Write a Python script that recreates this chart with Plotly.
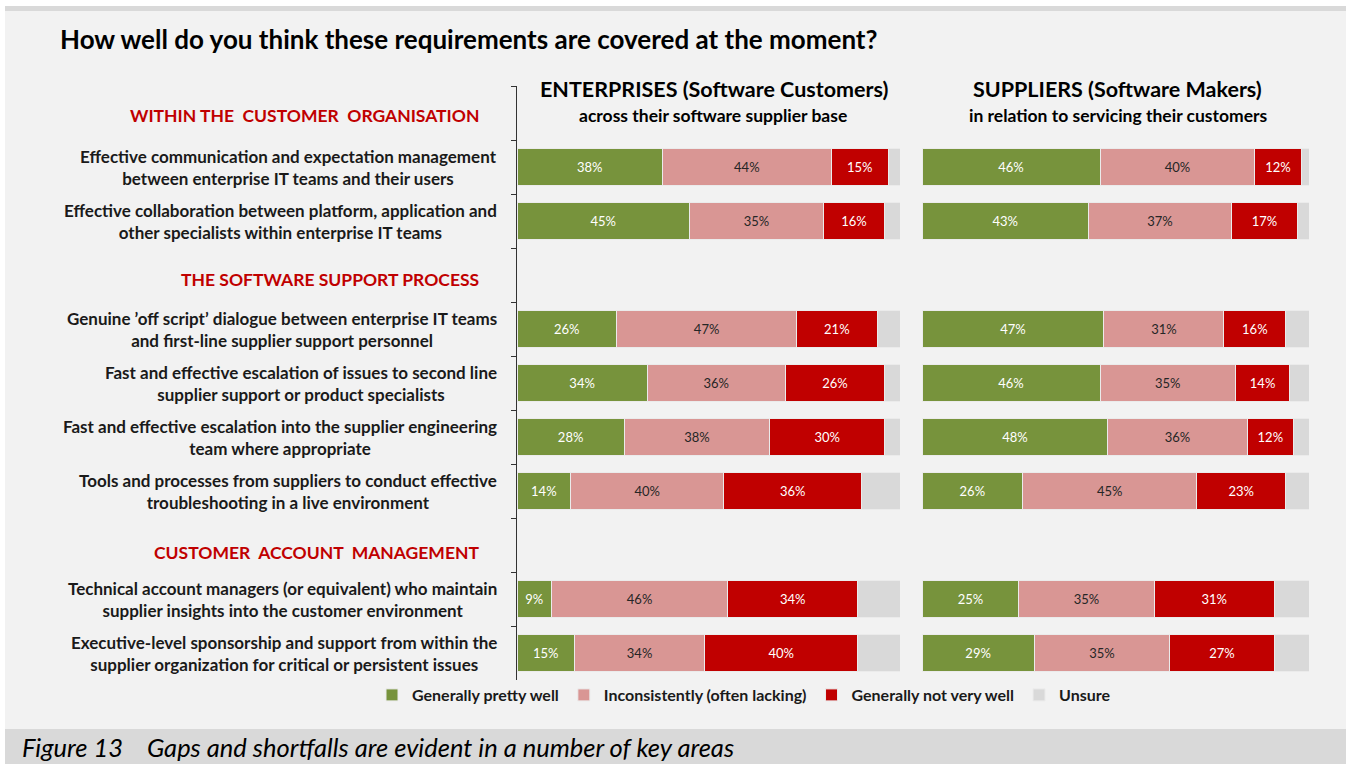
import plotly.graph_objects as go

# rows (question texts) and section headers, top to bottom
headers = ["WITHIN THE  CUSTOMER  ORGANISATION",
           "THE SOFTWARE SUPPORT PROCESS",
           "CUSTOMER  ACCOUNT  MANAGEMENT"]
questions = [
    "Effective communication and expectation management<br>between enterprise IT teams and their users",
    "Effective collaboration between platform, application and<br>other specialists within enterprise IT teams",
    "Genuine ’off script’ dialogue between enterprise IT teams<br>and first-line supplier support personnel",
    "Fast and effective escalation of issues to second line<br>supplier support or product specialists",
    "Fast and effective escalation into the supplier engineering<br>team where appropriate",
    "Tools and processes from suppliers to conduct effective<br>troubleshooting in a live environment",
    "Technical account managers (or equivalent) who maintain<br>supplier insights into the customer environment",
    "Executive-level sponsorship and support from within the<br>supplier organization for critical or persistent issues",
]
slots = [headers[0], questions[0], questions[1], headers[1],
         questions[2], questions[3], questions[4], questions[5],
         headers[2], questions[6], questions[7]]

series = ["Generally pretty well", "Inconsistently (often lacking)",
          "Generally not very well", "Unsure"]
colors = ["#77933c", "#d99694", "#c00000", "#d9d9d9"]
text_colors = ["white", "#262626", "white", "white"]

ent_well = [38, 45, 26, 34, 28, 14, 9, 15]
ent_incons = [44, 35, 47, 36, 38, 40, 46, 34]
ent_not = [15, 16, 21, 26, 30, 36, 34, 40]
ent_unsure = [3, 4, 6, 4, 4, 10, 11, 11]

sup_well = [46, 43, 47, 46, 48, 26, 25, 29]
sup_incons = [40, 37, 31, 35, 36, 45, 35, 35]
sup_not = [12, 17, 16, 14, 12, 23, 31, 27]
sup_unsure = [2, 3, 6, 5, 4, 6, 9, 9]

W, H = 1346, 764
L, R, T, B = 517, 37, 86, 84
FONT = "Lato"


def px(x):
    return (x - L) / (W - L - R)


def py(y):
    return (H - B - y) / (H - T - B)


fig = go.Figure()

# keep every slot on the category axis
fig.add_trace(go.Scatter(x=[0] * len(slots), y=slots, mode="markers",
                         marker=dict(opacity=0), hoverinfo="skip",
                         showlegend=False))

panels = [("x", [ent_well, ent_incons, ent_not, ent_unsure], True),
          ("x2", [sup_well, sup_incons, sup_not, sup_unsure], False)]
for xax, vals, show in panels:
    for name, v, c, tc in zip(series, vals, colors, text_colors):
        fig.add_trace(go.Bar(
            x=v, y=questions, orientation="h", name=name,
            xaxis=xax, yaxis="y", marker=dict(color=c, line=dict(color="#ebebeb", width=1)),
            text=[f"{n}%" for n in v] if name != "Unsure" else None,
            textposition="inside", insidetextanchor="middle",
            textfont=dict(color=tc, size=13, family=FONT),
            showlegend=show, legendgroup=name, hoverinfo="skip"))

fig.update_layout(
    width=W, height=H,
    margin=dict(l=L, r=R, t=T, b=B),
    barmode="stack", bargap=0.3,
    paper_bgcolor="white", plot_bgcolor="rgba(0,0,0,0)",
    font=dict(family=FONT, color="black"),
    showlegend=True,
    legend=dict(orientation="h", x=px(744), y=py(695), xanchor="center", yanchor="middle",
                font=dict(size=16, family=FONT, weight="bold", color="#1a1a1a"),
                bgcolor="rgba(0,0,0,0)", itemwidth=30, tracegroupgap=0),
    xaxis=dict(domain=[0, px(900)], range=[0, 100], visible=False, fixedrange=True),
    xaxis2=dict(domain=[px(922), 1], range=[0, 100], visible=False, anchor="y"),
    yaxis=dict(type="category", categoryorder="array", categoryarray=slots,
               range=[len(slots) - 0.5, -0.5], showticklabels=False,
               showline=True, linecolor="#333333", linewidth=1,
               ticks="outside", tickson="boundaries", ticklen=5, tickcolor="#333333",
               showgrid=False, zeroline=False),
)

shapes = [
    dict(type="rect", xref="paper", yref="paper", x0=px(5), x1=px(W), y0=py(H), y1=py(6),
         fillcolor="#f2f2f2", line=dict(width=0), layer="below"),
    dict(type="rect", xref="paper", yref="paper", x0=px(5), x1=px(W), y0=py(11), y1=py(6),
         fillcolor="#d9d9d9", line=dict(width=0), layer="below"),
    dict(type="rect", xref="paper", yref="paper", x0=px(5), x1=px(W), y0=py(H), y1=py(729),
         fillcolor="#d9d9d9", line=dict(width=0), layer="below"),
]
fig.update_layout(shapes=shapes)

ann = []
ann.append(dict(text="How well do you think these requirements are covered at the moment?",
                x=px(58), y=py(39), xanchor="left", yanchor="middle",
                font=dict(size=26, weight="bold", color="black")))
ann.append(dict(text="Figure 13    Gaps and shortfalls are evident in a number of key areas",
                x=px(20), y=py(747), xanchor="left", yanchor="middle",
                font=dict(size=25.5, style="italic", color="black")))
ann.append(dict(text="ENTERPRISES (Software Customers)", x=px(714), y=py(89),
                xanchor="center", yanchor="middle", font=dict(size=21.5, weight="bold")))
ann.append(dict(text="across their software supplier base", x=px(713), y=py(115),
                xanchor="center", yanchor="middle", font=dict(size=17.5, weight="bold")))
ann.append(dict(text="SUPPLIERS (Software Makers)", x=px(1117), y=py(89),
                xanchor="center", yanchor="middle", font=dict(size=21.5, weight="bold")))
ann.append(dict(text="in relation to servicing their customers", x=px(1118), y=py(115),
                xanchor="center", yanchor="middle", font=dict(size=17.5, weight="bold")))

# section headers sit slightly below their slot centre
for h, shift in zip(headers, [-2, -4, -7]):
    ann.append(dict(text=h, x=px(481), y=h, yref="y", xanchor="right", yanchor="middle",
                    yshift=shift, font=dict(size=17.5, weight="bold", color="#c00000")))
for q in questions:
    ann.append(dict(text=q, x=px(499), y=q, yref="y", xanchor="right", yanchor="middle",
                    align="center", font=dict(size=17, weight="bold", color="#1a1a1a")))

for a in ann:
    a.setdefault("xref", "paper")
    a.setdefault("yref", "paper")
    a["showarrow"] = False
fig.update_layout(annotations=ann)

fig.write_html("out.html", config={"displayModeBar": False},
               post_script="document.body.style.margin = '0';")
